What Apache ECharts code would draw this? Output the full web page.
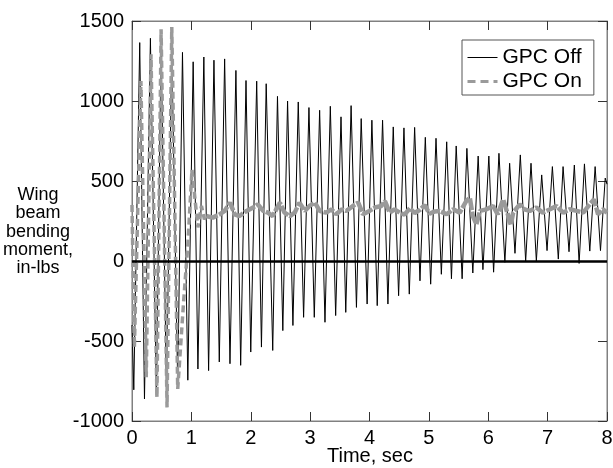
<!DOCTYPE html>
<html><head><meta charset="utf-8">
<script src="https://cdn.jsdelivr.net/npm/echarts@6/dist/echarts.min.js"></script>
<style>html,body{margin:0;padding:0;background:#fff}#c{width:613px;height:468px}</style>
</head><body><div id="c"></div>
<script>
// ---- data ----
const xTicks = [0, 1, 2, 3, 4, 5, 6, 7, 8];
const yTicks = [-1000, -500, 0, 500, 1000, 1500];

// GPC Off: local maxima / minima of the oscillation
const offPeakTimes = [0.13,0.31,0.49,0.67,0.85,1.03,1.21,1.38,1.56,1.75,1.92,2.10,2.26,2.45,2.62,
  2.80,2.98,3.16,3.34,3.52,3.69,3.86,4.04,4.22,4.40,4.58,4.76,4.94,5.12,5.30,
  5.46,5.64,5.83,6.01,6.18,6.36,6.54,6.72,6.90,7.08,7.26,7.45,7.62,7.80,7.97];
const offPeakValues = [1365,1392,1340,1320,1304,1245,1275,1255,1263,1191,1128,1124,1108,1029,1000,
  994,959,942,967,901,971,890,880,880,838,832,835,773,767,745,
  719,704,656,656,673,611,663,611,538,590,590,600,607,590,518];
const offTroughTimes = [0.03,0.21,0.41,0.58,0.77,0.94,1.11,1.29,1.47,1.65,1.83,2.00,2.18,2.37,2.54,
  2.71,2.89,3.07,3.25,3.43,3.60,3.78,3.96,4.13,4.31,4.49,4.67,4.85,5.03,5.21,
  5.38,5.56,5.74,5.91,6.09,6.28,6.45,6.63,6.81,6.99,7.18,7.36,7.53,7.71,7.89];
const offTroughValues = [-805,-862,-840,-810,-775,-745,-675,-685,-631,-642,-652,-569,-538,-559,-435,
  -403,-352,-352,-383,-341,-321,-290,-269,-279,-269,-217,-207,-124,-145,-83,
  -111,-111,-75,-54,-70,-8,48,-2,0,65,12,58,-15,62,65];
const offEndTimes = [0, 8];
const offEndValues = [-400, 480];

// GPC On: large oscillation before control engages
const onEarlyTimes = [0.00,0.04,0.15,0.24,0.32,0.42,0.49,0.59,0.67,0.77,0.87,0.94,1.01,1.11,1.17,1.22,1.25];
const onEarlyValues = [350,-540,1125,-727,1292,-852,1448,-915,1463,-800,-250,100,570,210,344,260,281];
// GPC On: settled, noisy part
const onLateTimes = [1.25,1.36,1.48,1.56,1.65,1.73,1.81,1.93,2.04,2.12,2.21,2.29,2.37,2.49,2.57,2.66,2.74,2.82,2.91,2.99,
  3.08,3.16,3.27,3.36,3.44,3.53,3.61,3.72,3.81,3.89,4.00,4.09,4.20,4.26,4.34,4.42,4.51,4.59,4.68,4.76,
  4.85,4.93,5.01,5.10,5.18,5.30,5.41,5.52,5.63,5.69,5.74,5.80,5.86,5.97,6.08,6.16,6.25,6.33,6.38,6.42,
  6.53,6.61,6.70,6.81,6.92,7.04,7.15,7.26,7.37,7.49,7.60,7.71,7.78,7.85,7.93,8.00];
const onLateValues = [281,271,292,313,365,292,281,313,334,354,313,302,281,365,302,281,302,365,313,344,
  365,313,302,323,292,323,313,344,365,292,313,334,344,375,302,323,302,290,330,300,
  320,350,295,310,313,292,323,302,375,395,281,230,313,323,344,292,385,292,225,302,
  354,323,313,334,302,323,344,302,323,313,302,354,385,292,323,302];

// ---- build series data ----
function pairs(ts, vs) { return ts.map((t, i) => [t, vs[i]]); }
const offData = pairs(offPeakTimes, offPeakValues)
  .concat(pairs(offTroughTimes, offTroughValues))
  .concat(pairs(offEndTimes, offEndValues))
  .sort((a, b) => a[0] - b[0]);
const onEarlyData = pairs(onEarlyTimes, onEarlyValues);
const onLateData = pairs(onLateTimes, onLateValues);

const FONT = '"Liberation Sans", Arial, Helvetica, sans-serif';
const frame = '#808080';
const GRAY = '#9a9a9a';

const chart = echarts.init(document.getElementById('c'), null, {renderer: 'canvas'});
const baseX = {
  type: 'value', min: xTicks[0], max: xTicks[xTicks.length - 1], interval: xTicks[1] - xTicks[0],
  axisLine: {show: true, onZero: false, lineStyle: {color: frame, width: 1}},
  axisTick: {show: true, inside: true, length: 9, lineStyle: {color: '#333'}},
  splitLine: {show: false}
};
const baseY = {
  type: 'value', min: yTicks[0], max: yTicks[yTicks.length - 1], interval: yTicks[1] - yTicks[0],
  axisLine: {show: true, onZero: false, lineStyle: {color: frame, width: 1}},
  axisTick: {show: true, inside: true, length: 9, lineStyle: {color: '#333'}},
  splitLine: {show: false}
};

chart.setOption({
  animation: false,
  backgroundColor: '#fff',
  grid: {left: 132, right: 6, top: 21, bottom: 47, containLabel: false, outerBoundsMode: 'none',
    show: true, borderColor: frame, borderWidth: 1, backgroundColor: 'transparent'},
  xAxis: [
    Object.assign({}, baseX, {
      position: 'bottom',
      axisLabel: {show: true, fontSize: 20, color: '#000', margin: 7, fontFamily: FONT, formatter: v => String(v)}
    }),
    Object.assign({}, baseX, {position: 'top', axisLabel: {show: false}})
  ],
  yAxis: [
    Object.assign({}, baseY, {
      position: 'left',
      axisLabel: {show: true, fontSize: 20, color: '#000', margin: 8, fontFamily: FONT, formatter: v => String(v)}
    }),
    Object.assign({}, baseY, {position: 'right', axisLabel: {show: false}})
  ],
  legend: {
    data: [
      {name: 'GPC Off', lineStyle: {color: '#000', width: 1}},
      {name: 'GPC On', lineStyle: {color: GRAY, width: 3, type: [8, 5]}}
    ],
    orient: 'vertical', left: 462, top: 40,
    borderColor: '#555', borderWidth: 1, padding: [7, 12, 3, 4],
    itemGap: 3, itemWidth: 30, itemHeight: 20,
    itemStyle: {opacity: 0},
    textStyle: {fontSize: 21, color: '#000', fontFamily: FONT, lineHeight: 21},
    backgroundColor: '#fff'
  },
  graphic: [
    {
      type: 'text', x: 38, y: 186,
      style: {
        text: 'Wing\nbeam\nbending\nmoment,\nin-lbs',
        fontSize: 18, lineHeight: 18.3, fontFamily: FONT, fill: '#000', align: 'center', textAlign: 'center'
      }
    },
    {
      type: 'text', x: 370, y: 456,
      style: {
        text: 'Time, sec', fontSize: 20, fontFamily: FONT, fill: '#000',
        align: 'center', textAlign: 'center', verticalAlign: 'middle', textVerticalAlign: 'middle'
      }
    }
  ],
  series: [
    {
      name: 'GPC Off', type: 'line', data: offData, symbol: 'none', showSymbol: false,
      lineStyle: {color: '#000', width: 1}, itemStyle: {color: '#000'}, z: 2
    },
    {
      name: 'GPC On', type: 'line', data: onEarlyData, symbol: 'none', showSymbol: false,
      lineStyle: {color: GRAY, width: 3.5, type: [7, 4]}, itemStyle: {color: GRAY}, z: 3
    },
    {
      name: 'GPC On', type: 'line', data: onLateData, symbol: 'none', showSymbol: false,
      lineStyle: {color: GRAY, width: 4.5, type: [12, 1.5]}, itemStyle: {color: GRAY}, z: 3,
      markLine: {
        silent: true, symbol: ['none', 'none'], label: {show: false},
        lineStyle: {color: '#000', width: 2.5, type: 'solid'},
        data: [{yAxis: 0}]
      }
    }
  ]
});
</script>
</body></html>
